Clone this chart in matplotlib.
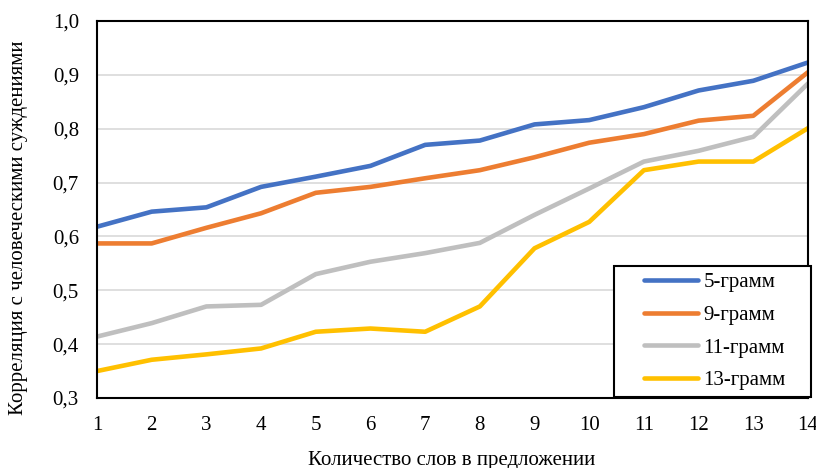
import matplotlib.pyplot as plt
from matplotlib.patches import Rectangle
from matplotlib.ticker import FuncFormatter

plt.rcParams['font.family'] = ['Liberation Serif', 'DejaVu Serif']

# Число слов в предложении
words = list(range(1, 15))

# Корреляция для каждой модели
gram5 = [0.618, 0.646, 0.654, 0.692, 0.711, 0.731, 0.770, 0.778, 0.808, 0.816, 0.840, 0.871, 0.889, 0.923]
gram9 = [0.587, 0.587, 0.616, 0.643, 0.681, 0.692, 0.708, 0.723, 0.747, 0.774, 0.790, 0.815, 0.824, 0.905]
gram11 = [0.414, 0.439, 0.470, 0.473, 0.530, 0.553, 0.569, 0.588, 0.640, 0.689, 0.739, 0.759, 0.785, 0.884]
gram13 = [0.350, 0.371, 0.381, 0.392, 0.423, 0.429, 0.423, 0.470, 0.578, 0.627, 0.723, 0.739, 0.739, 0.801]

series = [
    ('5-грамм', gram5, '#4472C4'),
    ('9-грамм', gram9, '#ED7D31'),
    ('11-грамм', gram11, '#BFBFBF'),
    ('13-грамм', gram13, '#FFC000'),
]

W, H = 816, 468
fig = plt.figure(figsize=(W / 100, H / 100), dpi=100)
ax = fig.add_axes([97 / W, 1 - 398 / H, 711 / W, 377 / H])

lines = []
for name, vals, col in series:
    ln, = ax.plot(words, vals, color=col, lw=3.3, label=name, solid_capstyle='round')
    lines.append(ln)

ax.set_xlim(1, 14)
ax.set_ylim(0.3, 1.0)
ax.set_xticks(words)
ax.set_yticks([0.3, 0.4, 0.5, 0.6, 0.7, 0.8, 0.9, 1.0])
ax.yaxis.set_major_formatter(FuncFormatter(lambda v, p: f'{v:.1f}'.replace('.', ',')))
ax.tick_params(length=0, labelsize=15)
ax.tick_params(axis='y', pad=13)
ax.tick_params(axis='x', pad=13)
ax.grid(axis='y', color='#d9d9d9', lw=1.2)
ax.set_axisbelow(True)
for s in ax.spines.values():
    s.set_color('black')
    s.set_linewidth(1.5)

fig.text(452 / W, 1 - 460 / H, 'Количество слов в предложении', fontsize=15,
         ha='center', va='center')
fig.text(19 / W, 1 - 228 / H, 'Корреляция с человеческими суждениями', fontsize=15,
         ha='center', va='center', rotation=90)

# рамка легенды
box = Rectangle((614 / W, 1 - 397 / H), 197 / W, 131 / H, transform=fig.transFigure,
                facecolor='white', edgecolor='black', lw=1.5, zorder=4)
fig.patches.append(box)

leg = fig.legend(handles=lines, loc='center left',
                 bbox_to_anchor=(644 / W, 1 - 331.5 / H), fontsize=15,
                 frameon=False, handlelength=2.6, handletextpad=0.25,
                 labelspacing=0.63, borderpad=0, borderaxespad=0)
leg.set_zorder(6)

plt.savefig('out.png', dpi=100)
